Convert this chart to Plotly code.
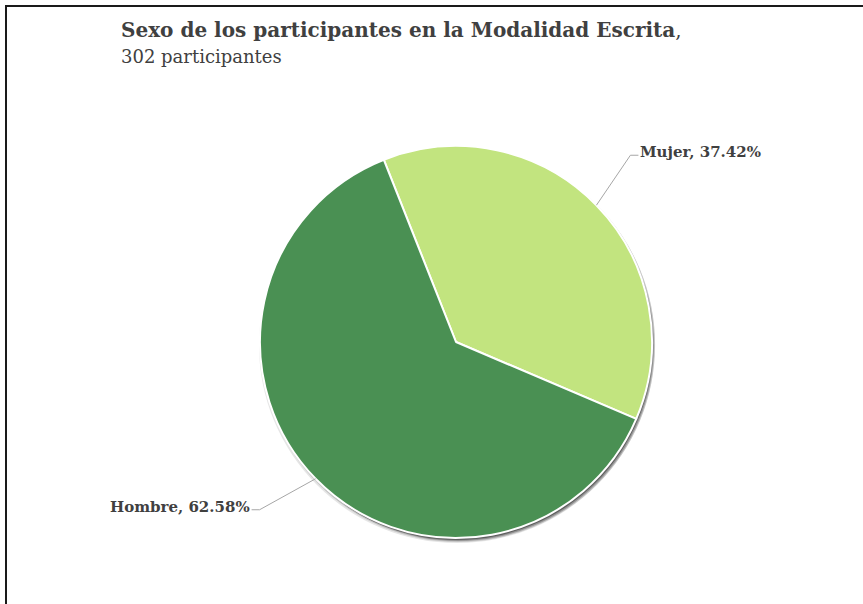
import math
import plotly.graph_objects as go

# ---- data ----
labels = ["Mujer", "Hombre"]
percentages = [37.42, 62.58]
colors = ["#C2E47F", "#4A9053"]
title_text = "Sexo de los participantes en la Modalidad Escrita"
subtitle_text = "302 participantes"

W, H = 863, 604
CX, CY, R = 456, 342, 196
ROTATION = -21.6  # start angle of first slice (clockwise from 12 o'clock)


def px(x):
    return x / W


def py(y):
    return 1 - y / H


def dom(cx, cy, r):
    return dict(x=[px(cx - r), px(cx + r)], y=[py(cy + r), py(cy - r)])


fig = go.Figure()

# soft shadow (layers of gray pies behind)
for dx, dy, dr, op in [(1, 3, 2, 0.10), (2, 3, 1, 0.15), (2, 3, 0, 0.25), (1, 2, 0, 0.35)]:
    fig.add_trace(go.Pie(
        values=[1], labels=["s"], marker=dict(colors=["#000000"]),
        opacity=op, textinfo="none", hoverinfo="skip", showlegend=False,
        sort=False, domain=dom(CX + dx, CY + dy, R + dr),
    ))

fig.add_trace(go.Pie(
    labels=labels, values=percentages, sort=False, direction="clockwise",
    rotation=ROTATION, marker=dict(colors=colors, line=dict(color="white", width=2)),
    textinfo="none", hoverinfo="label+percent", showlegend=False,
    domain=dom(CX, CY, R),
))

# labels with leader lines computed from the slice mid-angles
total = sum(percentages)
start = ROTATION
leader_offsets = [(34, -50, 8), (-56, 31, -8)]
shapes = []
annotations = []
for lab, val, (ox, oy, hz) in zip(labels, percentages, leader_offsets):
    span = 360 * val / total
    mid = math.radians(start + span / 2)
    start += span
    ex = CX + R * math.sin(mid)
    ey = CY - R * math.cos(mid)
    kx, ky = ex + ox, ey + oy
    tx = kx + hz
    shapes.append(dict(type="line", xref="paper", yref="paper",
                       x0=px(ex), y0=py(ey), x1=px(kx), y1=py(ky),
                       line=dict(color="#a6a6a6", width=1)))
    shapes.append(dict(type="line", xref="paper", yref="paper",
                       x0=px(kx), y0=py(ky), x1=px(tx), y1=py(ky),
                       line=dict(color="#a6a6a6", width=1)))
    annotations.append(dict(
        xref="paper", yref="paper", x=px(tx), y=py(ky - 3),
        text=f"<b>{lab}, {val:.2f}%</b>", showarrow=False,
        xanchor="left" if hz > 0 else "right", yanchor="middle",
        font=dict(family="DejaVu Serif", size=15, color="#404040"),
    ))

# frame
shapes.append(dict(type="rect", xref="paper", yref="paper",
                   x0=px(6), y0=py(6), x1=px(W + 20), y1=py(H + 20),
                   line=dict(color="#1a1a1a", width=2), fillcolor="rgba(0,0,0,0)"))

annotations.append(dict(
    xref="paper", yref="paper", x=px(119), y=py(16),
    text=f"<b>{title_text}</b>,", showarrow=False, xanchor="left", yanchor="top",
    font=dict(family="DejaVu Serif", size=20, color="#404040"),
))
annotations.append(dict(
    xref="paper", yref="paper", x=px(119), y=py(44),
    text=subtitle_text, showarrow=False, xanchor="left", yanchor="top",
    font=dict(family="DejaVu Serif", size=18, color="#404040"),
))

fig.update_layout(
    width=W, height=H, margin=dict(l=0, r=0, t=0, b=0),
    paper_bgcolor="white", plot_bgcolor="white",
    shapes=shapes, annotations=annotations,
)

fig.write_html("out.html", config={"displayModeBar": False},
               post_script="document.body.style.margin='0';")
